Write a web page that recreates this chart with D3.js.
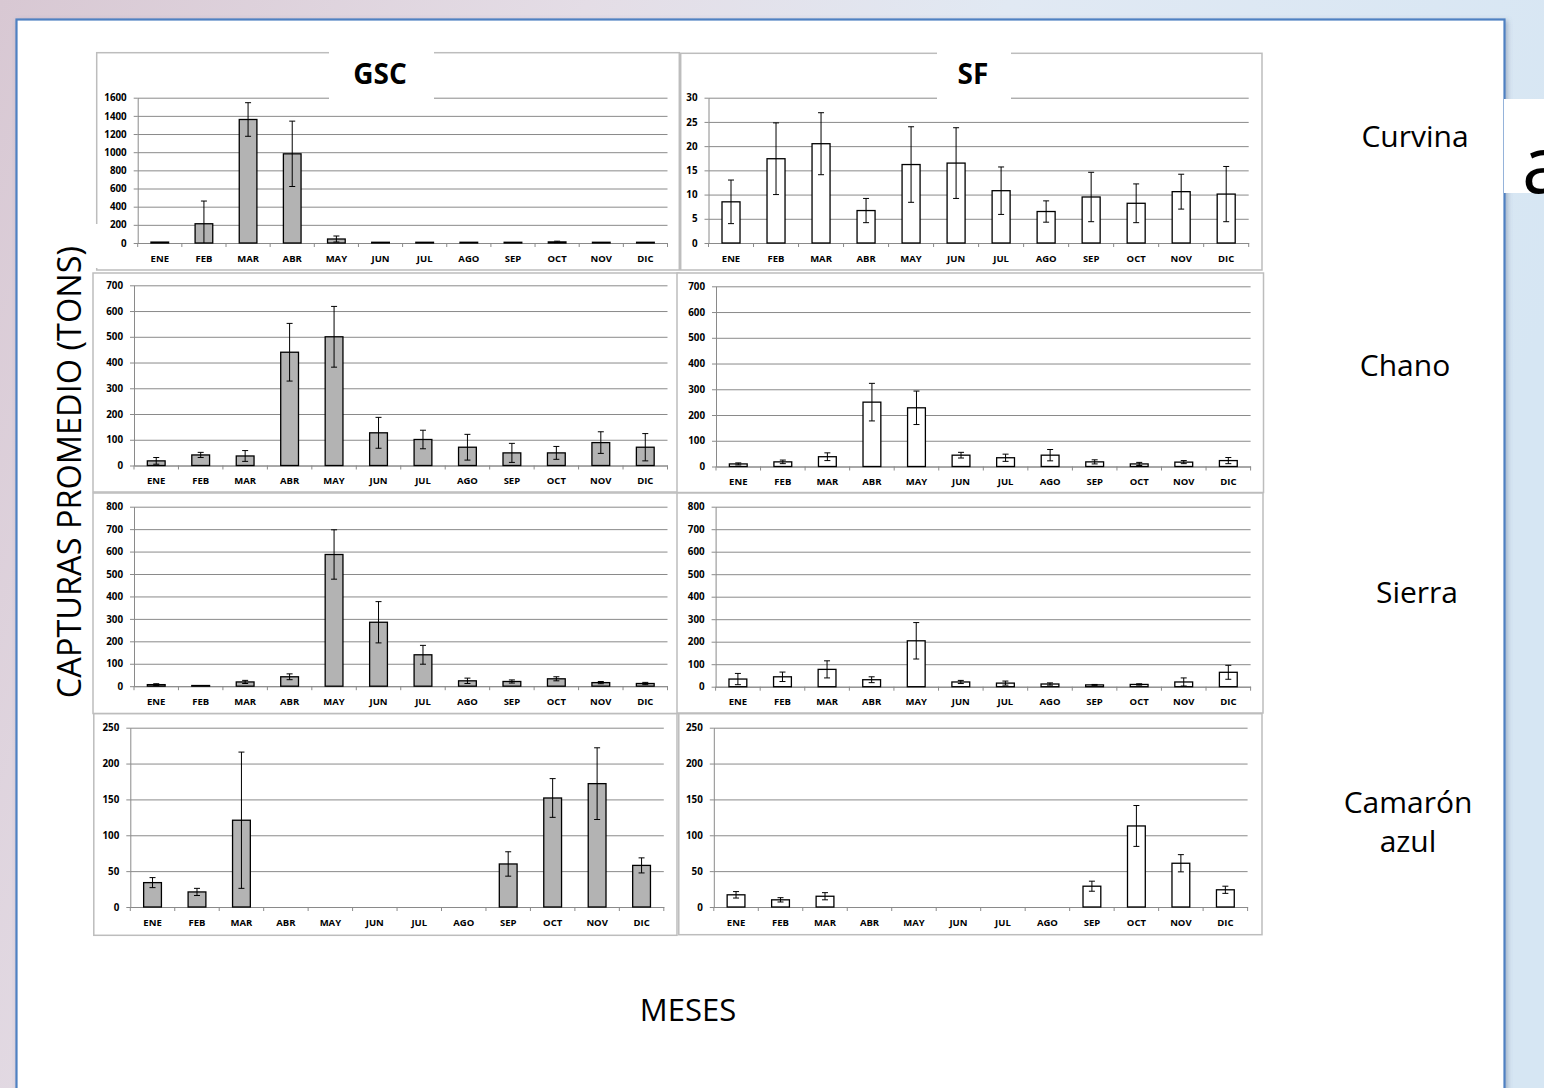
<!DOCTYPE html>
<html>
<head>
<meta charset="utf-8">
<script src="https://cdn.jsdelivr.net/npm/d3@7"></script>
<style>
  html, body { margin: 0; padding: 0; width: 1544px; height: 1088px; overflow: hidden; }
  svg { display: block; }
</style>
</head>
<body>
<svg id="chart" width="1544" height="1088"></svg>
<script>
// ---------------- DATA ----------------
const months = ["ENE","FEB","MAR","ABR","MAY","JUN","JUL","AGO","SEP","OCT","NOV","DIC"];
const regions = ["GSC","SF"];
const species = ["Curvina","Chano","Sierra","Camarón azul"];

const curvinaGSC    = [10, 212, 1360, 982, 44, 8, 8, 8, 8, 12, 8, 8];
const curvinaGSCErr = [0, 250, 185, 360, 33, 0, 0, 0, 0, 8, 0, 0];
const curvinaSF     = [8.5, 17.4, 20.5, 6.7, 16.2, 16.5, 10.8, 6.5, 9.5, 8.2, 10.6, 10.1];
const curvinaSFErr  = [4.5, 7.4, 6.4, 2.5, 7.8, 7.3, 4.9, 2.2, 5.1, 4.0, 3.6, 5.7];

const chanoGSC    = [18, 41, 37, 440, 500, 127, 101, 71, 49, 49, 89, 71];
const chanoGSCErr = [13, 10, 21, 112, 118, 60, 36, 50, 37, 25, 42, 53];
const chanoSF     = [10, 18, 38, 250, 228, 44, 34, 44, 18, 10, 17, 23];
const chanoSFErr  = [4, 7, 15, 73, 65, 11, 14, 22, 8, 6, 6, 12];

const sierraGSC    = [7, 3, 19, 42, 587, 285, 140, 24, 21, 33, 16, 12];
const sierraGSCErr = [4, 0, 7, 13, 110, 92, 42, 12, 7, 9, 5, 5];
const sierraSF     = [34, 44, 77, 31, 204, 21, 16, 12, 8, 10, 21, 64];
const sierraSFErr  = [25, 21, 38, 13, 81, 7, 9, 5, 2, 3, 18, 31];

const camaronGSC    = [34, 21, 121, null, null, null, null, null, 60, 152, 172, 58];
const camaronGSCErr = [7, 5, 95, null, null, null, null, null, 17, 27, 50, 10.5];
const camaronSF     = [17, 10, 15, null, null, null, null, null, 29, 113, 61, 24];
const camaronSFErr  = [4.5, 3, 5, null, null, null, null, null, 7, 28.5, 12, 5];

const yMaxGSC  = [1600, 700, 800, 250];
const yStepGSC = [200, 100, 100, 50];
const yMaxSF   = [30, 700, 800, 250];
const yStepSF  = [5, 100, 100, 50];

const yAxisTitle = "CAPTURAS PROMEDIO (TONS)";
const xAxisTitle = "MESES";

// ---------------- LAYOUT ----------------
const svg = d3.select("#chart");
const defs = svg.append("defs");
const bg = defs.append("linearGradient").attr("id","bg").attr("x1","0").attr("y1","0").attr("x2","1").attr("y2","0.3");
bg.append("stop").attr("offset","0").attr("stop-color","#d8c8d3");
bg.append("stop").attr("offset","0.35").attr("stop-color","#e4dde6");
bg.append("stop").attr("offset","0.6").attr("stop-color","#e1e9f3");
bg.append("stop").attr("offset","1").attr("stop-color","#d6e6f3");
const sh = defs.append("filter").attr("id","shadow").attr("x","-5%").attr("y","-5%").attr("width","110%").attr("height","110%");
sh.append("feDropShadow").attr("dx",2).attr("dy",2).attr("stdDeviation",2.5).attr("flood-color","#5a6f90").attr("flood-opacity",0.45);

svg.append("rect").attr("width",1544).attr("height",1088).attr("fill","url(#bg)");
svg.append("rect").attr("x",16.5).attr("y",19.5).attr("width",1488).attr("height",1120)
  .attr("fill","#ffffff").attr("stroke","#4f81c2").attr("stroke-width",2.2).attr("filter","url(#shadow)");

// white box with the partially visible "a"
svg.append("rect").attr("x",1504).attr("y",99).attr("width",40).attr("height",94).attr("fill","#ffffff");
svg.append("text").attr("x",1522).attr("y",193).attr("font-family","Open Sans").attr("font-size",78)
  .attr("fill","#000").text("a");

const panels = [
  {row:0,col:0, box:[96.7,52.7,679.3,270], plot:[137.7,97.7,667.5,243], data:curvinaGSC, err:curvinaGSCErr},
  {row:0,col:1, box:[680.7,53.3,1262,270], plot:[708.5,97.7,1248.7,243], data:curvinaSF, err:curvinaSFErr},
  {row:1,col:0, box:[93,273,679,492], plot:[134,285.3,667.5,465.5], data:chanoGSC, err:chanoGSCErr},
  {row:1,col:1, box:[677,273,1263.5,492.5], plot:[716,286.3,1250.6,466.5], data:chanoSF, err:chanoSFErr},
  {row:2,col:0, box:[93,493,679,713.5], plot:[134,506.7,667.5,686.2], data:sierraGSC, err:sierraGSCErr},
  {row:2,col:1, box:[677,493,1263,713], plot:[715.6,506.7,1250.6,686.7], data:sierraSF, err:sierraSFErr},
  {row:3,col:0, box:[93.8,713.7,677,935.3], plot:[130.3,727.7,663.8,907], data:camaronGSC, err:camaronGSCErr},
  {row:3,col:1, box:[678.8,713.7,1262,934.7], plot:[713.8,727.7,1247.6,907], data:camaronSF, err:camaronSFErr}
];

const fillColors = ["#b3b3b3", "#ffffff"];

panels.forEach(p => {
  const g = svg.append("g");
  const [bx0,by0,bx1,by1] = p.box;
  g.append("rect").attr("x",bx0).attr("y",by0).attr("width",bx1-bx0).attr("height",by1-by0)
    .attr("fill","#ffffff").attr("stroke","#bdbdbd").attr("stroke-width",1.5);

  const [x0,yt,x1,yb] = p.plot;
  const yMax = p.col === 0 ? yMaxGSC[p.row] : yMaxSF[p.row];
  const yStep = p.col === 0 ? yStepGSC[p.row] : yStepSF[p.row];
  const y = d3.scaleLinear().domain([0,yMax]).range([yb,yt]);
  const x = d3.scaleBand().domain(months).range([x0,x1]).paddingInner(0).paddingOuter(0);
  const ticks = d3.range(0, yMax + yStep/2, yStep);

  const grid = g.append("g").attr("transform",`translate(${x0},0)`)
    .call(d3.axisLeft(y).tickValues(ticks).tickSize(-(x1-x0)).tickFormat(""));
  grid.select(".domain").remove();
  grid.selectAll("line").attr("stroke","#8a8a8a").attr("stroke-width",1);

  const ya = g.append("g").attr("transform",`translate(${x0},0)`)
    .call(d3.axisLeft(y).tickValues(ticks).tickSize(4).tickSizeOuter(0).tickPadding(7).tickFormat(d3.format("d")));
  ya.select(".domain").attr("stroke","#8a8a8a");
  ya.selectAll("line").attr("stroke","#8a8a8a");
  ya.selectAll("text").attr("font-family","Open Sans").attr("font-weight","bold").attr("font-size",9.8).attr("fill","#000");

  const xa = g.append("g").attr("transform",`translate(0,${yb})`)
    .call(d3.axisBottom(x).tickSize(0).tickPadding(12));
  xa.select(".domain").attr("stroke","#8a8a8a");
  xa.selectAll("text").attr("font-family","Open Sans").attr("font-weight","bold").attr("font-size",9.5).attr("fill","#000");
  const step = x.step();
  g.append("g").selectAll("line").data(d3.range(months.length+1)).join("line")
    .attr("x1", i => x0 + i*step).attr("x2", i => x0 + i*step)
    .attr("y1", yb).attr("y2", yb+4).attr("stroke","#8a8a8a");

  const bw = step*0.4;
  const vals = months.map((m,i) => ({m, v:p.data[i], e:p.err[i]})).filter(d => d.v !== null);
  g.append("g").selectAll("rect").data(vals).join("rect")
    .attr("x", d => x(d.m) + (step-bw)/2)
    .attr("y", d => y(d.v))
    .attr("width", bw)
    .attr("height", d => y(0) - y(d.v))
    .attr("fill", fillColors[p.col])
    .attr("stroke","#000").attr("stroke-width",1.3);

  const eb = g.append("g").attr("stroke","#000").attr("stroke-width",1);
  vals.filter(d => d.e > 0).forEach(d => {
    const cx = x(d.m) + step/2;
    const hi = y(d.v + d.e), lo = y(Math.max(0, d.v - d.e));
    eb.append("line").attr("x1",cx).attr("x2",cx).attr("y1",hi).attr("y2",lo);
    eb.append("line").attr("x1",cx-3).attr("x2",cx+3).attr("y1",hi).attr("y2",hi);
    if (d.v - d.e > 0) eb.append("line").attr("x1",cx-3).attr("x2",cx+3).attr("y1",lo).attr("y2",lo);
  });
});

svg.append("rect").attr("x",94).attr("y",224).attr("width",5).attr("height",44).attr("fill","#ffffff");

const titleBoxes = [[329,50,105,49,380,"GSC"],[937,50,74,49,973,"SF"]];
titleBoxes.forEach(t => {
  svg.append("rect").attr("x",t[0]).attr("y",t[1]).attr("width",t[2]).attr("height",t[3]).attr("fill","#ffffff");
  svg.append("text").attr("x",t[4]).attr("y",83.5).attr("text-anchor","middle")
    .attr("font-family","Open Sans").attr("font-weight","bold").attr("font-size",28).attr("fill","#000")
    .text(t[5]);
});

const speciesPos = [[1415,[147]],[1405,[376]],[1417,[603]],[1408,[813,852]]];
species.forEach((s,i) => {
  const parts = s === "Camarón azul" ? ["Camarón","azul"] : [s];
  parts.forEach((txt,j) => {
    svg.append("text").attr("x",speciesPos[i][0]).attr("y",speciesPos[i][1][j])
      .attr("text-anchor","middle").attr("font-family","Open Sans").attr("font-size",30)
      .attr("fill","#000").text(txt);
  });
});

svg.append("text").attr("transform","translate(81,472) rotate(-90)").attr("text-anchor","middle")
  .attr("font-family","Open Sans").attr("font-size",32.5).attr("fill","#000").text(yAxisTitle);
svg.append("text").attr("x",688).attr("y",1021).attr("text-anchor","middle")
  .attr("font-family","Open Sans").attr("font-size",31).attr("fill","#000").text(xAxisTitle);
</script>
</body>
</html>
